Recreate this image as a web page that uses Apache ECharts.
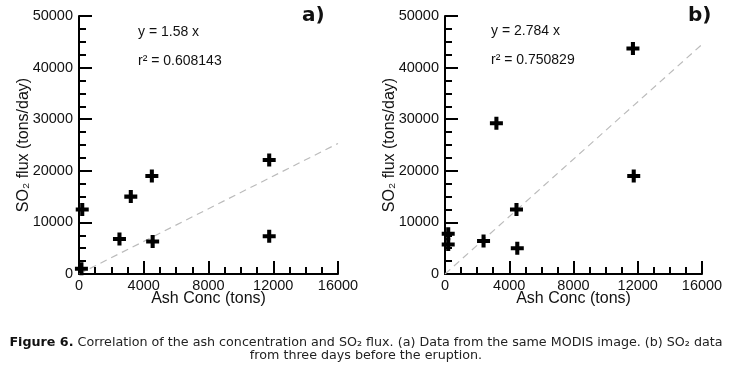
<!DOCTYPE html>
<html>
<head>
<meta charset="utf-8">
<script src="https://cdn.jsdelivr.net/npm/echarts@6/dist/echarts.min.js"></script>
<style>
    html, body { margin: 0; padding: 0; background: #fff; }
    #chart { width: 732px; height: 366px; }
</style>
</head>
<body>
<div id="chart"></div>
<script>
// panel a) same MODIS image
const ash_a = [200, 150, 2500, 3200, 4500, 4550, 11750, 11750];
const so2_a = [12500, 1000, 6800, 15000, 19000, 6300, 22100, 7300];
const fit_a = [[0, 0], [16000, 25300]];

// panel b) SO2 three days before
const ash_b = [11700, 3200, 11750, 4450, 200, 200, 2400, 4500];
const so2_b = [43700, 29200, 19000, 12500, 7800, 5700, 6400, 5000];
const fit_b = [[0, 0], [16000, 44500]];

const eq_a = ['y = 1.58 x', 'r\u00b2 = 0.608143'];
const eq_b = ['y = 2.784 x', 'r\u00b2 = 0.750829'];

const x_ticks = [0, 4000, 8000, 12000, 16000];
const y_ticks = [0, 10000, 20000, 30000, 40000, 50000];

const plus_sym = 'path://M5.5,0H10.5V5.5H16V10.5H10.5V16H5.5V10.5H0V5.5H5.5Z';
const font = "'Liberation Sans', Arial, sans-serif";
const cap_font = "'DejaVu Sans', Verdana, sans-serif";

function pairs(xs, ys) {
    let out = [];
    for (let i = 0; i < xs.length; i++) {
        out.push([xs[i], ys[i]]);
    }
    return out;
}

function make_x(idx) {
    return {
        type: 'value',
        gridIndex: idx,
        min: x_ticks[0],
        max: x_ticks[x_ticks.length - 1],
        interval: 4000,
        name: 'Ash Conc (tons)',
        nameLocation: 'middle',
        nameGap: 17,
        nameMoveOverlap: false,
        nameTextStyle: { fontFamily: font, fontSize: 16, color: '#111' },
        axisLine: { lineStyle: { color: '#000', width: 2 } },
        axisTick: { inside: true, length: 13, lineStyle: { color: '#000', width: 2 } },
        minorTick: { show: true, splitNumber: 4, length: 7, lineStyle: { color: '#000', width: 2 } },
        axisLabel: { margin: 4, fontFamily: font, fontSize: 14.5, color: '#111', formatter: v => String(v) },
        splitLine: { show: false }
    };
}

function make_y(idx) {
    return {
        type: 'value',
        gridIndex: idx,
        min: y_ticks[0],
        max: y_ticks[y_ticks.length - 1],
        interval: 10000,
        name: 'SO\u2082 flux (tons/day)',
        nameLocation: 'middle',
        nameGap: 47,
        nameMoveOverlap: false,
        nameRotate: 90,
        nameTextStyle: { fontFamily: font, fontSize: 16, color: '#111' },
        axisLine: { lineStyle: { color: '#000', width: 2 } },
        axisTick: { inside: true, length: 13, lineStyle: { color: '#000', width: 2 } },
        minorTick: { show: true, splitNumber: 4, length: 7, lineStyle: { color: '#000', width: 2 } },
        axisLabel: { margin: 6, fontFamily: font, fontSize: 14.5, color: '#111', formatter: v => String(v) },
        splitLine: { show: false }
    };
}

function make_points(idx, data) {
    return {
        type: 'scatter',
        xAxisIndex: idx,
        yAxisIndex: idx,
        data: data,
        symbol: plus_sym,
        symbolSize: 13,
        itemStyle: { color: '#000', opacity: 1 },
        z: 5
    };
}

function make_fit(idx, data) {
    return {
        type: 'line',
        xAxisIndex: idx,
        yAxisIndex: idx,
        data: data,
        showSymbol: false,
        lineStyle: { color: '#bbb', width: 1.2, type: [7, 5] },
        z: 3
    };
}

function text_el(x, y, str, size, weight) {
    return {
        type: 'text',
        left: x,
        top: y,
        style: {
            text: str,
            fontFamily: font,
            fontSize: size,
            fontWeight: weight || 'normal',
            fill: '#111'
        }
    };
}

let myChart = echarts.init(document.getElementById('chart'), null, { renderer: 'canvas' });

myChart.setOption({
    animation: false,
    backgroundColor: '#fff',
    grid: [
        { left: 79, top: 16, width: 259, height: 258 },
        { left: 445, top: 16, width: 257, height: 258 }
    ],
    xAxis: [make_x(0), make_x(1)],
    yAxis: [make_y(0), make_y(1)],
    series: [
        make_fit(0, fit_a),
        make_points(0, pairs(ash_a, so2_a)),
        make_fit(1, fit_b),
        make_points(1, pairs(ash_b, so2_b))
    ],
    graphic: [
        text_el(138, 25, eq_a[0], 14),
        text_el(138, 54, eq_a[1], 14),
        text_el(491, 24, eq_b[0], 14),
        text_el(491, 53, eq_b[1], 14),
        {
            type: 'text', left: 302, top: 6,
            style: { text: 'a)', fontFamily: cap_font, fontSize: 20, fontWeight: 'bold', fill: '#111' }
        },
        {
            type: 'text', left: 688, top: 6,
            style: { text: 'b)', fontFamily: cap_font, fontSize: 20, fontWeight: 'bold', fill: '#111' }
        },
        {
            type: 'text',
            style: {
                x: 366, y: 336,
                text: '{b|Figure 6.} Correlation of the ash concentration and SO\u2082 flux. (a) Data from the same MODIS image. (b) SO\u2082 data\nfrom three days before the eruption.',
                fontFamily: cap_font,
                fontSize: 12.7,
                lineHeight: 13,
                align: 'center',
                verticalAlign: 'top',
                fill: '#222',
                rich: {
                    b: { fontFamily: cap_font, fontSize: 12.7, fontWeight: 'bold', fill: '#111' }
                }
            }
        }
    ]
});
</script>
</body>
</html>
